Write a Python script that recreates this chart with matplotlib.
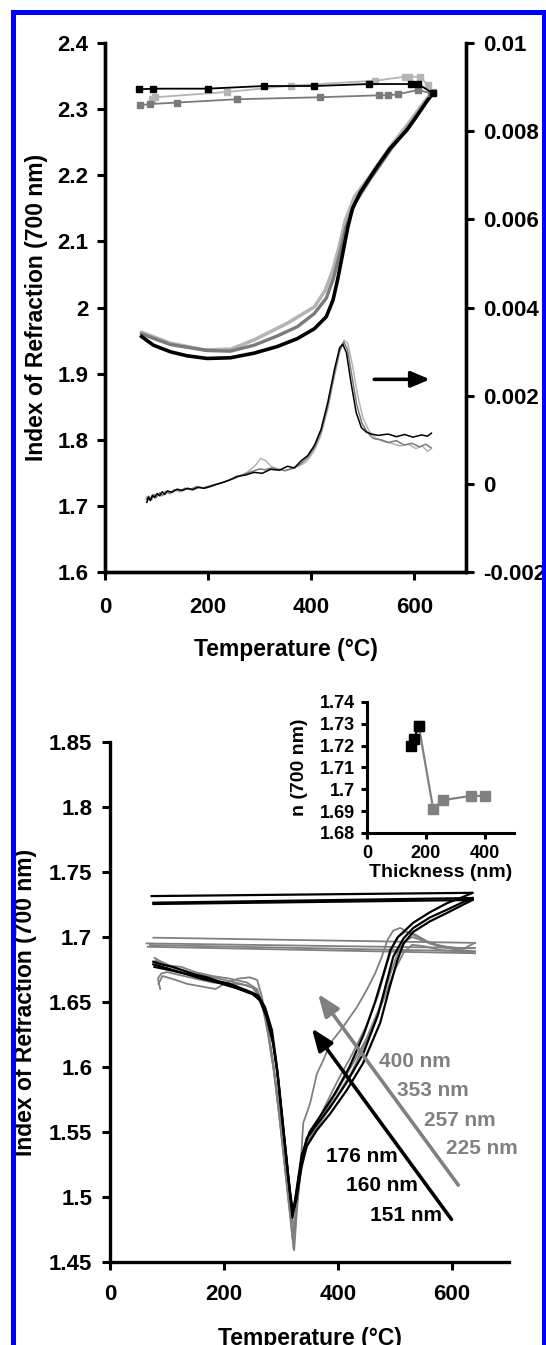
import matplotlib
matplotlib.use("Agg")
import matplotlib.pyplot as plt
from matplotlib.patches import Rectangle

plt.rcParams['font.family'] = ['Liberation Sans', 'DejaVu Sans']
plt.rcParams['font.weight'] = 'bold'
plt.rcParams['axes.labelweight'] = 'bold'

# ---------------- top panel: n(700 nm) during heating and cooling (left axis)
heat_t_black = [71, 94, 127, 159, 198, 243, 289, 334, 373, 406, 429, 442, 451, 461, 471, 480, 495, 525, 552, 585, 605, 625, 636]
heat_n_black = [1.956, 1.943, 1.933, 1.927, 1.923, 1.924, 1.931, 1.941, 1.953, 1.968, 1.986, 2.011, 2.042, 2.082, 2.122, 2.150, 2.174, 2.210, 2.240, 2.268, 2.290, 2.313, 2.324]
heat_t_grey = [71, 127, 198, 243, 289, 334, 373, 406, 429, 443, 455, 467, 484, 515, 555, 590, 615, 634]
heat_n_grey = [1.960, 1.944, 1.935, 1.934, 1.943, 1.957, 1.971, 1.991, 2.014, 2.044, 2.081, 2.121, 2.157, 2.195, 2.240, 2.275, 2.303, 2.322]
heat_t_light = [71, 127, 192, 244, 289, 353, 406, 427, 442, 454, 466, 484, 515, 555, 590, 618, 636]
heat_n_light = [1.9625, 1.946, 1.936, 1.937, 1.951, 1.976, 2.001, 2.026, 2.057, 2.092, 2.132, 2.168, 2.200, 2.245, 2.280, 2.310, 2.326]

cool_t_black = [636, 607, 594, 511, 406, 308, 199, 94, 65]
cool_n_black = [2.324, 2.338, 2.338, 2.338, 2.335, 2.335, 2.331, 2.331, 2.330]
cool_t_grey = [633, 607, 568, 549, 532, 417, 255, 140, 88, 68]
cool_n_grey = [2.324, 2.329, 2.3225, 2.321, 2.321, 2.318, 2.315, 2.310, 2.3077, 2.306]
cool_t_light = [636, 627, 610, 590, 581, 523, 360, 237, 97, 91]
cool_n_light = [2.326, 2.336, 2.349, 2.349, 2.349, 2.343, 2.3355, 2.326, 2.318, 2.316]

# derivative traces (right axis)
der_t_black = [81, 84, 88, 92, 96, 101, 106, 111, 116, 121, 130, 140, 150, 160, 170, 180, 192, 204, 216, 228, 240, 256, 272, 289, 305, 321, 338, 354, 367, 380, 393, 406, 419, 432, 445, 455, 461, 468, 477, 487, 497, 506, 516, 530, 549, 565, 581, 597, 614, 625, 633]
der_v_black = [-0.00042, -0.00030, -0.00038, -0.00026, -0.00031, -0.00022, -0.00027, -0.00018, -0.00024, -0.00016, -0.00019, -0.00012, -0.00015, -0.00010, -0.00013, -0.00008, -0.00010, -0.00006, -0.00001, 0.00003, 0.00008, 0.00017, 0.00020, 0.00026, 0.00024, 0.00033, 0.00031, 0.00040, 0.00036, 0.00052, 0.00064, 0.00087, 0.00124, 0.00185, 0.00260, 0.00309, 0.00317, 0.00298, 0.00230, 0.00162, 0.00128, 0.00118, 0.00113, 0.00110, 0.00113, 0.00107, 0.00112, 0.00106, 0.00111, 0.00108, 0.00115]
der_t_grey = [80, 85, 90, 95, 100, 106, 112, 118, 125, 135, 145, 155, 165, 178, 190, 205, 220, 235, 250, 265, 280, 290, 300, 310, 322, 335, 350, 365, 380, 393, 406, 419, 432, 445, 455, 463, 470, 478, 488, 498, 508, 520, 535, 550, 565, 580, 595, 610, 622, 632]
der_v_grey = [-0.00035, -0.00028, -0.00036, -0.00024, -0.00030, -0.00020, -0.00026, -0.00017, -0.00021, -0.00013, -0.00016, -0.00010, -0.00013, -0.00006, -0.00009, -0.00004, 0.00000, 0.00006, 0.00012, 0.00020, 0.00026, 0.00030, 0.00034, 0.00032, 0.00036, 0.00033, 0.00030, 0.00036, 0.00046, 0.00060, 0.00082, 0.00118, 0.00176, 0.00250, 0.00302, 0.00322, 0.00305, 0.00250, 0.00180, 0.00138, 0.00118, 0.00103, 0.00100, 0.00094, 0.00098, 0.00088, 0.00092, 0.00084, 0.00090, 0.00082]
der_t_light = [80, 86, 92, 98, 104, 110, 118, 126, 136, 146, 158, 170, 182, 195, 210, 225, 240, 255, 270, 282, 293, 302, 312, 322, 334, 348, 362, 376, 390, 404, 418, 431, 444, 455, 464, 471, 480, 490, 500, 512, 525, 540, 556, 572, 588, 603, 615, 625, 633]
der_v_light = [-0.00030, -0.00038, -0.00025, -0.00033, -0.00022, -0.00028, -0.00018, -0.00023, -0.00014, -0.00018, -0.00011, -0.00014, -0.00008, -0.00010, -0.00004, 0.00002, 0.00008, 0.00014, 0.00022, 0.00032, 0.00044, 0.00058, 0.00052, 0.00040, 0.00034, 0.00030, 0.00034, 0.00040, 0.00050, 0.00072, 0.00108, 0.00165, 0.00240, 0.00300, 0.00326, 0.00318, 0.00268, 0.00200, 0.00150, 0.00120, 0.00104, 0.00096, 0.00092, 0.00086, 0.00090, 0.00080, 0.00086, 0.00074, 0.00080]

top_left_ticks = [1.6, 1.7, 1.8, 1.9, 2.0, 2.1, 2.2, 2.3, 2.4]
top_left_labels = ['1.6', '1.7', '1.8', '1.9', '2', '2.1', '2.2', '2.3', '2.4']
top_right_ticks = [-0.002, 0, 0.002, 0.004, 0.006, 0.008, 0.01]
top_right_labels = ['-0.002', '0', '0.002', '0.004', '0.006', '0.008', '0.01']

# ---------------- bottom panel: films of different thickness
films_black = ['151 nm', '160 nm', '176 nm']
heat_t_151 = [76, 90, 110, 130, 150, 170, 190, 210, 228, 245, 260, 272, 284, 292, 301, 310, 316, 321, 327, 336, 345, 363, 386, 415, 444, 474, 491, 504, 515, 532, 561, 591, 620, 636]
heat_n_151 = [1.681, 1.679, 1.677, 1.674, 1.671, 1.669, 1.666, 1.664, 1.661, 1.658, 1.655, 1.646, 1.6285, 1.603, 1.564, 1.5285, 1.503, 1.488, 1.498, 1.523, 1.539, 1.5515, 1.564, 1.582, 1.603, 1.634, 1.662, 1.682, 1.695, 1.704, 1.712, 1.7185, 1.725, 1.7285]
heat_t_160 = [76, 100, 130, 160, 190, 220, 250, 262, 274, 285, 294, 303, 311, 317, 320, 326, 336, 345, 363, 386, 415, 444, 470, 485, 497, 515, 532, 561, 591, 620, 636]
heat_n_160 = [1.679, 1.676, 1.672, 1.669, 1.665, 1.661, 1.656, 1.652, 1.642, 1.622, 1.596, 1.558, 1.522, 1.497, 1.484, 1.500, 1.528, 1.545, 1.556, 1.569, 1.588, 1.610, 1.640, 1.665, 1.685, 1.699, 1.707, 1.715, 1.721, 1.727, 1.730]
heat_t_176 = [78, 100, 130, 160, 190, 220, 250, 263, 275, 286, 295, 304, 312, 318, 322, 328, 336, 350, 370, 395, 420, 445, 465, 480, 492, 505, 532, 561, 591, 620, 636]
heat_n_176 = [1.677, 1.675, 1.672, 1.668, 1.665, 1.661, 1.657, 1.651, 1.638, 1.618, 1.590, 1.552, 1.518, 1.496, 1.490, 1.508, 1.532, 1.550, 1.563, 1.580, 1.600, 1.625, 1.650, 1.672, 1.690, 1.700, 1.711, 1.719, 1.726, 1.731, 1.734]
cool_t_151 = [636, 76]
cool_n_151 = [1.7285, 1.7254]
cool_t_160 = [636, 76]
cool_n_160 = [1.730, 1.7264]
cool_t_176 = [633, 73]
cool_n_176 = [1.734, 1.7315]

films_grey = ['225 nm', '257 nm', '353 nm', '400 nm']
heat_t_225 = [80, 95, 115, 140, 170, 200, 230, 250, 262, 272, 282, 292, 302, 311, 317, 323, 329, 336, 350, 370, 395, 425, 455, 480, 500, 515, 530, 550, 580, 610, 640]
heat_n_225 = [1.682, 1.679, 1.676, 1.673, 1.670, 1.667, 1.664, 1.661, 1.654, 1.640, 1.615, 1.585, 1.548, 1.515, 1.492, 1.475, 1.500, 1.525, 1.545, 1.558, 1.575, 1.597, 1.625, 1.652, 1.675, 1.688, 1.694, 1.693, 1.690, 1.689, 1.6875]
heat_t_257 = [78, 90, 105, 125, 150, 180, 210, 240, 258, 268, 278, 289, 299, 308, 315, 322, 327, 333, 345, 365, 390, 420, 450, 475, 492, 505, 518, 530, 550, 575, 610, 640]
heat_n_257 = [1.684, 1.681, 1.678, 1.677, 1.673, 1.670, 1.668, 1.665, 1.660, 1.648, 1.625, 1.592, 1.555, 1.520, 1.495, 1.460, 1.490, 1.520, 1.540, 1.555, 1.575, 1.598, 1.622, 1.648, 1.672, 1.688, 1.697, 1.700, 1.697, 1.693, 1.690, 1.689]
heat_t_353 = [85, 92, 100, 115, 135, 160, 185, 205, 225, 245, 258, 266, 276, 287, 297, 306, 313, 320, 326, 331, 340, 355, 375, 400, 425, 450, 470, 485, 495, 505, 518, 535, 555, 580, 610, 640]
heat_n_353 = [1.664, 1.670, 1.669, 1.667, 1.664, 1.662, 1.660, 1.665, 1.668, 1.669, 1.667, 1.655, 1.632, 1.600, 1.563, 1.527, 1.498, 1.468, 1.490, 1.510, 1.535, 1.550, 1.568, 1.590, 1.610, 1.632, 1.655, 1.678, 1.692, 1.700, 1.704, 1.702, 1.697, 1.693, 1.691, 1.6915]
heat_t_400 = [88, 84, 90, 100, 120, 140, 160, 180, 200, 220, 240, 256, 266, 276, 287, 297, 306, 313, 319, 323, 328, 333, 339, 351, 363, 374, 386, 409, 433, 450, 465, 477, 487, 497, 509, 526, 544, 561, 591, 620, 640]
heat_n_400 = [1.660, 1.668, 1.672, 1.673, 1.671, 1.669, 1.667, 1.665, 1.664, 1.664, 1.663, 1.660, 1.650, 1.628, 1.598, 1.562, 1.525, 1.497, 1.476, 1.459, 1.490, 1.515, 1.557, 1.572, 1.595, 1.605, 1.618, 1.631, 1.646, 1.659, 1.672, 1.685, 1.698, 1.705, 1.707, 1.703, 1.699, 1.695, 1.6925, 1.691, 1.6955]
cool_t_225 = [640, 66]
cool_n_225 = [1.6875, 1.6925]
cool_t_257 = [640, 70]
cool_n_257 = [1.689, 1.6938]
cool_t_353 = [640, 64]
cool_n_353 = [1.6915, 1.6951]
cool_t_400 = [640, 76]
cool_n_400 = [1.6955, 1.6995]

bottom_ticks = [1.45, 1.5, 1.55, 1.6, 1.65, 1.7, 1.75, 1.8, 1.85]
bottom_labels = ['1.45', '1.5', '1.55', '1.6', '1.65', '1.7', '1.75', '1.8', '1.85']

# inset: n at room temperature vs film thickness
thick_black = [151, 160, 176]
n_thick_black = [1.720, 1.723, 1.729]
thick_grey = [176, 225, 257, 353, 400]
n_thick_grey = [1.729, 1.691, 1.695, 1.697, 1.697]
inset_ticks = [1.68, 1.69, 1.70, 1.71, 1.72, 1.73, 1.74]
inset_labels = ['1.68', '1.69', '1.7', '1.71', '1.72', '1.73', '1.74']

BLACK = '#000000'
GREY = '#7a7a7a'
LIGHT = '#b4b4b4'


def style_axis(ax, size=16, length=5.8, pad_x=12, pad_y=6):
    for s in ax.spines.values():
        s.set_linewidth(2.4)
    ax.tick_params(axis='both', direction='out', length=length, width=2.2, labelsize=size)
    ax.tick_params(axis='x', pad=pad_x)
    ax.tick_params(axis='y', pad=pad_y)
    for lab in ax.get_xticklabels() + ax.get_yticklabels():
        lab.set_fontweight('bold')


fig = plt.figure(figsize=(5.46, 13.45), dpi=100)

# ---------------- top panel
ax1 = fig.add_axes([0.1923, 0.5747, 0.6612, 0.3933])
ax1r = ax1.twinx()
ax1.plot(heat_t_light, heat_n_light, color=LIGHT, lw=2.6)
ax1.plot(heat_t_grey, heat_n_grey, color=GREY, lw=2.4)
ax1.plot(heat_t_black, heat_n_black, color=BLACK, lw=2.6)
ax1.plot(cool_t_light, cool_n_light, color=LIGHT, lw=1.3, marker='s', ms=4, mec=LIGHT)
ax1.plot(cool_t_grey, cool_n_grey, color=GREY, lw=1.3, marker='s', ms=4, mec=GREY)
ax1.plot(cool_t_black, cool_n_black, color=BLACK, lw=1.3, marker='s', ms=4, mec=BLACK)
ax1r.plot(der_t_light, der_v_light, color=LIGHT, lw=1.1)
ax1r.plot(der_t_grey, der_v_grey, color=GREY, lw=1.1)
ax1r.plot(der_t_black, der_v_black, color=BLACK, lw=1.1)

ax1.annotate('', xy=(630, 1.8914), xytext=(522, 1.8914),
             arrowprops=dict(arrowstyle='-|>,head_length=0.75,head_width=0.32', lw=2.6,
                             color='black', shrinkA=0, shrinkB=0, mutation_scale=15))

ax1.set_xlim(0, 700)
ax1.set_ylim(1.6, 2.4)
ax1r.set_ylim(-0.002, 0.01)
ax1.set_xticks([0, 200, 400, 600])
ax1.set_yticks(top_left_ticks)
ax1.set_yticklabels(top_left_labels)
ax1r.set_yticks(top_right_ticks)
ax1r.set_yticklabels(top_right_labels)
for a in (ax1, ax1r):
    a.spines['top'].set_visible(False)
style_axis(ax1)
style_axis(ax1r, pad_y=6.5)
ax1.set_xlabel('Temperature (\u00b0C)', fontsize=16.5, fontweight='bold')
ax1.set_ylabel('Index of Refraction (700 nm)', fontsize=16.5, fontweight='bold')
ax1.xaxis.set_label_coords(0.5, -0.125)
ax1.yaxis.set_label_coords(-0.158, 0.5)

# ---------------- bottom panel
ax2 = fig.add_axes([0.2015, 0.0617, 0.7308, 0.3866])
for t, n in [(cool_t_225, cool_n_225), (cool_t_257, cool_n_257),
             (cool_t_353, cool_n_353), (cool_t_400, cool_n_400),
             (heat_t_225, heat_n_225), (heat_t_257, heat_n_257),
             (heat_t_353, heat_n_353), (heat_t_400, heat_n_400)]:
    ax2.plot(t, n, color='#808080', lw=1.3)
for t, n in [(cool_t_151, cool_n_151), (cool_t_160, cool_n_160),
             (cool_t_176, cool_n_176), (heat_t_151, heat_n_151),
             (heat_t_160, heat_n_160), (heat_t_176, heat_n_176)]:
    ax2.plot(t, n, color=BLACK, lw=1.6)

ax2.annotate('', xy=(365, 1.6562), xytext=(611, 1.5092),
             arrowprops=dict(arrowstyle='-|>,head_length=0.9,head_width=0.35', lw=2.6,
                             color='#808080', shrinkA=0, shrinkB=0, mutation_scale=15))
ax2.annotate('', xy=(354, 1.6298), xytext=(599, 1.4828),
             arrowprops=dict(arrowstyle='-|>,head_length=0.9,head_width=0.35', lw=2.6,
                             color='black', shrinkA=0, shrinkB=0, mutation_scale=15))

grey_label_pos = [(653, 1.5375), (614, 1.559), (567, 1.5823), (535, 1.604)]
for lab, (x, y) in zip(films_grey, grey_label_pos):
    ax2.text(x, y, lab, color='#808080', fontsize=15, ha='center', va='center', fontweight='bold')
black_label_pos = [(520, 1.486), (477, 1.5085), (441, 1.531)]
for lab, (x, y) in zip(films_black, black_label_pos):
    ax2.text(x, y, lab, color='black', fontsize=15, ha='center', va='center', fontweight='bold')

ax2.set_xlim(0, 700)
ax2.set_ylim(1.45, 1.85)
ax2.set_xticks([0, 200, 400, 600])
ax2.set_yticks(bottom_ticks)
ax2.set_yticklabels(bottom_labels)
ax2.spines['top'].set_visible(False)
ax2.spines['right'].set_visible(False)
style_axis(ax2, pad_x=10, pad_y=7)
ax2.set_xlabel('Temperature (\u00b0C)', fontsize=16.5, fontweight='bold')
ax2.set_ylabel('Index of Refraction (700 nm)', fontsize=16.5, fontweight='bold')
ax2.xaxis.set_label_coords(0.5, -0.125)
ax2.yaxis.set_label_coords(-0.183, 0.5)

# ---------------- inset
ax3 = fig.add_axes([0.6722, 0.3807, 0.2692, 0.0974])
ax3.patch.set_alpha(0)
ax3.plot(thick_grey, n_thick_grey, color='#808080', lw=1.6, marker='s', ms=7, mec='#808080')
ax3.plot(thick_black, n_thick_black, color=BLACK, lw=1.6, marker='s', ms=7, mec=BLACK)
ax3.set_xlim(0, 500)
ax3.set_ylim(1.68, 1.74)
ax3.set_xticks([0, 200, 400])
ax3.set_yticks(inset_ticks)
ax3.set_yticklabels(inset_labels)
ax3.spines['top'].set_visible(False)
ax3.spines['right'].set_visible(False)
style_axis(ax3, size=13, length=4, pad_x=5, pad_y=5)
for s in ax3.spines.values():
    s.set_linewidth(2.2)
ax3.set_xlabel('Thickness (nm)', fontsize=14, fontweight='bold', labelpad=1)
ax3.set_ylabel('n (700 nm)', fontsize=14, fontweight='bold')
ax3.yaxis.set_label_coords(-0.40, 0.5)

# blue frame around the figure
fig.patches.append(Rectangle((12.5 / 546, -0.05), 531 / 546, 1.05 - 12 / 1345,
                             transform=fig.transFigure, fill=False,
                             edgecolor='#0000ff', linewidth=3.6, zorder=10))

fig.savefig('out.png', dpi=100)
